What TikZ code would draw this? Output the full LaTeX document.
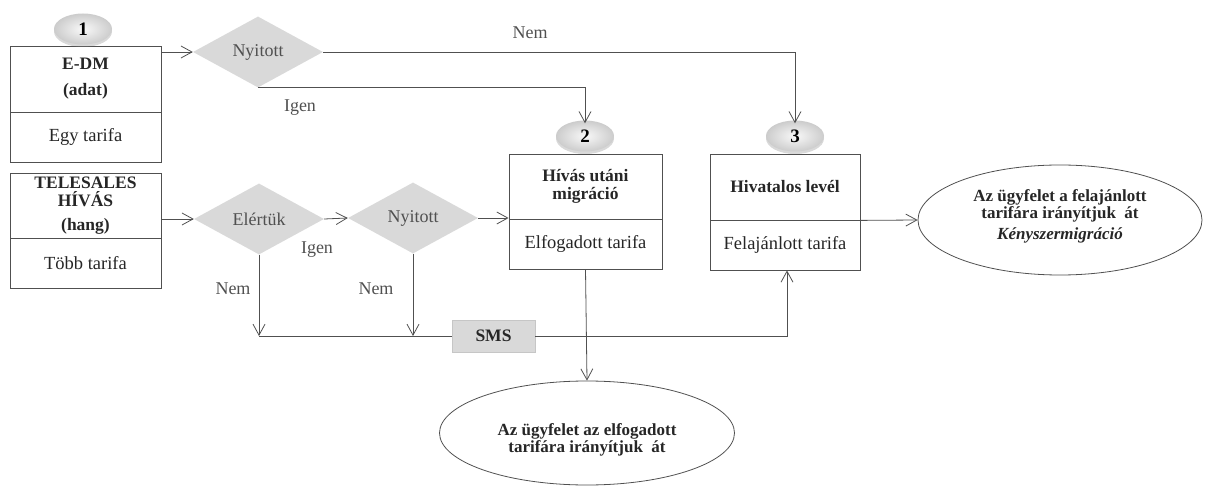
\documentclass[tikz,border=0pt]{standalone}
\usepackage{fontspec}
\setmainfont{Liberation Serif}
\usetikzlibrary{shapes.geometric,arrows.meta,shadows}
\definecolor{lnc}{HTML}{505050}
\definecolor{dg}{HTML}{D9D9D9}
\definecolor{tx}{HTML}{262626}
\begin{document}
\begin{tikzpicture}[x=1pt,y=-1pt,
 font=\fontsize{18}{18}\selectfont,
 box/.style={draw=lnc, line width=0.8pt, minimum width=151pt, inner sep=0pt, align=center, text=tx, font=\fontsize{18.5}{19}\selectfont},
 bbox/.style={box, font=\fontsize{17.5}{18}\selectfont\bfseries},
 dia/.style={diamond, fill=dg, minimum width=130pt, minimum height=71pt, inner sep=0pt, text=lnc, font=\fontsize{18}{18}\selectfont},
 num/.style={ellipse, minimum width=58pt, minimum height=31pt, inner sep=0pt, inner color=gray!5, outer color=gray!40,
   drop shadow={opacity=0.3, shadow xshift=0pt, shadow yshift=-2.5pt}, font=\fontsize{19}{19}\selectfont\bfseries, text=black},
 oval/.style={ellipse, draw=lnc, line width=0.8pt, inner sep=0pt},
 ovaltxt/.style={align=center, inner sep=0pt, text=tx, font=\fontsize{17}{17.5}\selectfont\bfseries},
 arr/.style={draw=lnc, line width=0.8pt, -{Straight Barb[length=11pt,width=12pt,line width=0.8pt]}},
 lnk/.style={draw=lnc, line width=0.8pt},
 lbl/.style={text=lnc, inner sep=0pt, font=\fontsize{18}{18}\selectfont},
 smsbox/.style={fill=dg, draw=gray!45, line width=0.6pt, minimum width=83pt, minimum height=32pt, inner sep=0pt, font=\fontsize{17.5}{18}\selectfont\bfseries, text=tx}
]
\useasboundingbox (0,0) rectangle (1212,486);

% boxes
\node[bbox, minimum height=66pt] (b1t) at (85.5,79) {E-DM\\[8pt](adat)};
\node[box, minimum height=50pt] (b1b) at (85.5,137) {Egy tarifa};
\node[bbox, minimum height=65pt] (b2t) at (85.5,205.5) {TELESALES\\HÍVÁS\\[6pt](hang)};
\node[box, minimum height=50pt] (b2b) at (85.5,263) {Több tarifa};
\node[bbox, minimum width=153pt, minimum height=65pt] (m2t) at (585.5,186.5) {Hívás utáni\\migráció};
\node[box, minimum width=153pt, minimum height=50pt] (m2b) at (585.5,244) {Elfogadott tarifa};
\node[bbox, minimum width=150pt, minimum height=66pt] (h3t) at (785,187) {Hivatalos levél};
\node[box, minimum width=150pt, minimum height=50pt] (h3b) at (785,245) {Felajánlott tarifa};

% diamonds
\node[dia] (d1) at (258,52) {Nyitott};
\node[dia] (e) at (259,219) {Elértük};
\node[dia] (d2) at (413,218) {Nyitott};

% number badges
\node[num] (c1) at (83,29) {1};
\node[num] (c2) at (585,136) {2};
\node[num] (c3) at (795,136) {3};

% SMS
\node[smsbox] (sms) at (493.5,336) {SMS};

% ovals
\node[oval, minimum width=284pt, minimum height=110pt] (o1) at (1060,220) {};
\node[ovaltxt] (o1t) at (1060,216) {Az ügyfelet a felajánlott\\tarifára irányítjuk\ \ át\\[3pt]\textit{Kényszermigráció}};
\node[oval, minimum width=295pt, minimum height=104pt] (o2) at (587,433) {};
\node[ovaltxt] (o2t) at (587,440) {Az ügyfelet az elfogadott\\tarifára irányítjuk\ \ át};

% connectors
\draw[arr] (d1.west -| b1t.east) -- (d1.west);
\draw[arr] (d1.east) -| ([yshift=-3pt]c3.north);
\draw[arr] (d1.south) -| ([yshift=-3pt]c2.north);
\draw[arr] (e.west -| b2t.east) -- (e.west);
\draw[arr] (e.east) -- (d2.west);
\draw[arr] (d2.east) -- (d2.east -| m2t.west);
\coordinate (j1) at (e.south |- sms.west);
\coordinate (j2) at (d2.south |- sms.west);
\draw[arr] (e.south) -- (j1);
\draw[arr] (d2.south) -- (j2);
\draw[lnk] (j1) -- (sms.west);
\draw[arr] (sms.east) -| ([xshift=2pt]h3b.south);
\draw[arr] (m2b.south) -- (o2.north);
\draw[arr] (h3t.south east) -- (o1.west);

% labels
\node[lbl] (l1) at (530,33) {Nem};
\node[lbl] (l2) at (300,108) {Igen};
\node[lbl] (l3) at (317,250) {Igen};
\node[lbl] (l4) at (233,289) {Nem};
\node[lbl] (l5) at (376,289) {Nem};
\end{tikzpicture}
\end{document}
